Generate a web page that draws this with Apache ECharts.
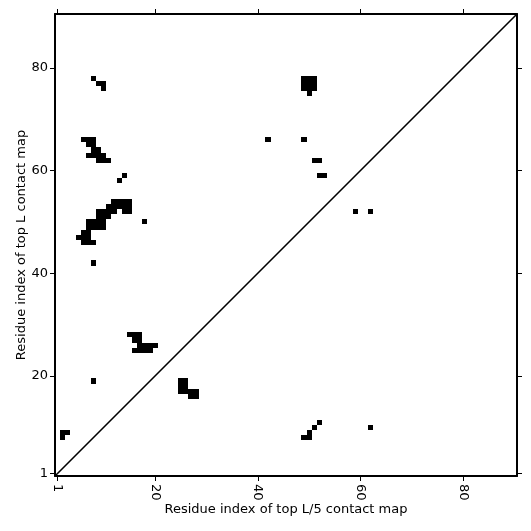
<!DOCTYPE html>
<html>
<head>
<meta charset="utf-8">
<script src="https://cdn.jsdelivr.net/npm/echarts@6/dist/echarts.min.js"></script>
<style>
  html, body { margin: 0; background: #fff; }
  #main { width: 531px; height: 531px; }
</style>
</head>
<body>
<div id="main"></div>
<script>
// sequence length and tick labels
var seqLen = 90;
var tickValues = [1, 20, 40, 60, 80];

// top L contacts (upper triangle) [i, j]
var topLContacts = [
  [8,78],[9,77],[10,77],[10,76],
  [6,66],[7,66],[8,66],[7,65],[8,65],[8,64],[9,64],[7,63],[8,63],[9,63],[10,63],[9,62],[10,62],[11,62],
  [13,58],[14,59],
  [12,54],[13,54],[14,54],[15,54],[11,53],[12,53],[13,53],[14,53],[15,53],
  [9,52],[10,52],[11,52],[12,52],[14,52],[15,52],[9,51],[10,51],[11,51],
  [7,50],[8,50],[9,50],[10,50],[7,49],[8,49],[9,49],[10,49],
  [6,48],[7,48],[5,47],[6,47],[7,47],[6,46],[7,46],[8,46],
  [8,42],[18,50],
  [42,66],[49,66],[51,62],[52,62],[52,59],[53,59],[59,52],[62,52],
  [49,78],[50,78],[51,78],[49,77],[50,77],[51,77],[49,76],[50,76],[51,76],[50,75],
  [15,28],[16,28],[17,28],[16,27],[17,27],[17,26],[18,26],[19,26],[20,26],[16,25],[17,25],[18,25],[19,25],
  [8,19],
  [2,9],[3,9],[2,8]
];

// top L/5 contacts (lower triangle) [i, j]
var topL5Contacts = [
  [25,19],[26,19],[25,18],[26,18],[25,17],[26,17],[27,17],[28,17],[27,16],[28,16],
  [52,11],[51,10],[50,9],[49,8],[50,8],
  [62,10]
];

var diagLine = [[0.5, 0.5], [seqLen + 0.5, seqLen + 0.5]];

var font = 'DejaVu Sans';

// one residue pair = one cell, snapped to whole pixels so neighbours join
function renderCell(params, api) {
  var p0 = api.coord([api.value(0) - 0.5, api.value(1) + 0.5]);
  var p1 = api.coord([api.value(0) + 0.5, api.value(1) - 0.5]);
  var x0 = Math.round(p0[0]), y0 = Math.round(p0[1]);
  var x1 = Math.round(p1[0]), y1 = Math.round(p1[1]);
  return {
    type: 'rect',
    shape: { x: x0, y: y0, width: x1 - x0, height: y1 - y0 },
    style: { fill: '#000' }
  };
}

function makeAxis(pos, withLabel, name) {
  var isX = (pos == 'bottom' || pos == 'top');
  return {
    type: 'value',
    position: pos,
    min: 0.5,
    max: seqLen + 0.5,
    name: name || '',
    nameLocation: 'middle',
    nameGap: 27,
    nameMoveOverlap: false,
    nameTextStyle: { fontFamily: font, fontSize: 13, color: '#000' },
    splitLine: { show: false },
    axisLine: { show: true, onZero: false, lineStyle: { color: '#000', width: 2 } },
    axisTick: { show: true, inside: false, length: 5, customValues: tickValues,
      lineStyle: { color: '#000', width: 1 } },
    axisLabel: {
      show: withLabel,
      customValues: tickValues,
      rotate: isX ? -90 : 0,
      margin: isX ? 8 : 7,
      fontFamily: font,
      fontSize: 13,
      color: '#000'
    }
  };
}

var option = {
  animation: false,
  backgroundColor: '#fff',
  grid: { left: 55, right: 14, top: 14, bottom: 55, containLabel: false, outerBoundsMode: 'none' },
  xAxis: [
    makeAxis('bottom', true, 'Residue index of top L/5 contact map'),
    makeAxis('top', false)
  ],
  yAxis: [
    makeAxis('left', true, 'Residue index of top L contact map'),
    makeAxis('right', false)
  ],
  series: [
    {
      name: 'top L',
      type: 'custom',
      renderItem: renderCell,
      data: topLContacts,
      clip: true
    },
    {
      name: 'top L/5',
      type: 'custom',
      renderItem: renderCell,
      data: topL5Contacts,
      clip: true
    },
    {
      name: 'diagonal',
      type: 'line',
      data: diagLine,
      symbol: 'none',
      silent: true,
      lineStyle: { color: '#000', width: 1.6 }
    }
  ]
};

var myChart = echarts.init(document.getElementById('main'));
myChart.setOption(option);
</script>
</body>
</html>
